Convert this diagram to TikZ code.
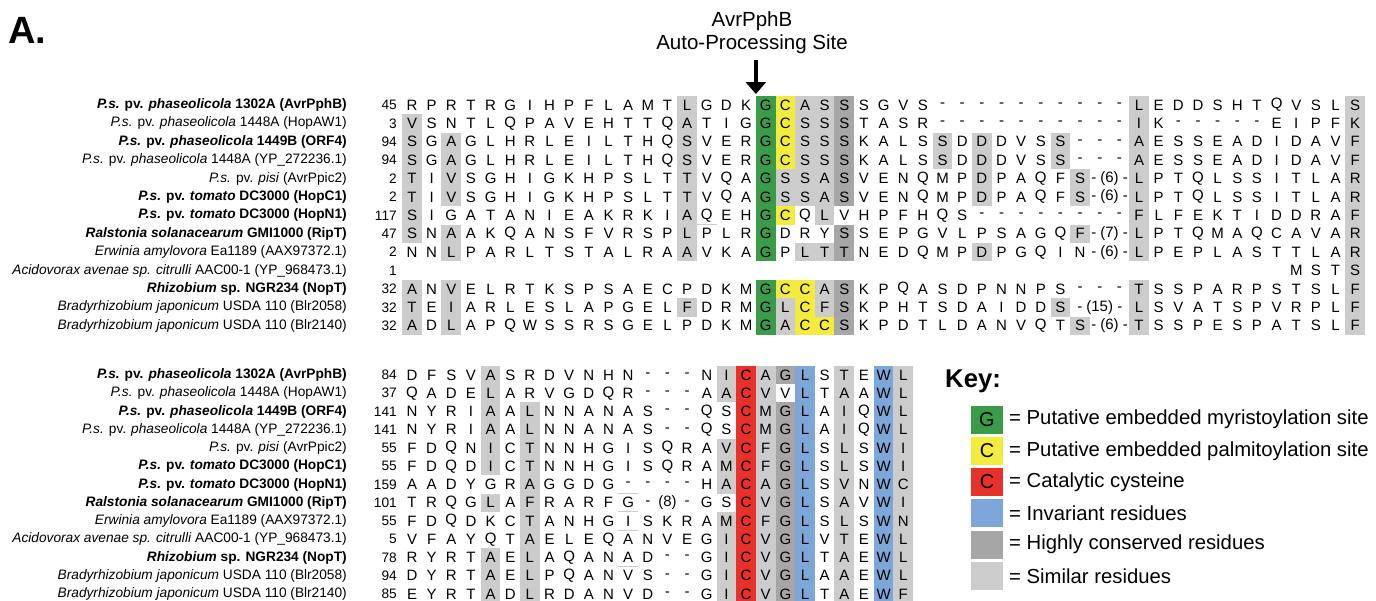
\documentclass[tikz,border=0pt]{standalone}
\usepackage{fontspec}
\setmainfont{Liberation Sans}
\usetikzlibrary{arrows.meta}
\definecolor{myrgreen}{HTML}{3A9B48}
\definecolor{palyellow}{HTML}{F3EB3D}
\definecolor{catred}{HTML}{E8312A}
\definecolor{invblue}{HTML}{7DA7D9}
\definecolor{consgray}{HTML}{A6A6A6}
\definecolor{simgray}{HTML}{CCCCCC}

% one row of residues, top block / bottom block
\newcommand{\toprow}[3]{%
  \foreach \t [count=\c from #2] in {#3}
    \node[res] (t-#1-\c) at ({412+19.65*\c},{105+18.4*(#1-1)}) {\t};}
\newcommand{\botrow}[2]{%
  \foreach \t [count=\c from 0] in {#2}
    \node[res] (b-#1-\c) at ({412+19.65*\c},{375+18.25*(#1-1)}) {\t};}

\begin{document}
\begin{tikzpicture}[x=1pt,y=-1pt]
  \tikzstyle{res}=[inner sep=0pt,font=\fontsize{15}{15}\selectfont]
  \tikzstyle{strain}=[anchor=east,inner sep=0pt,font=\fontsize{13.7}{16}\selectfont]
  \tikzstyle{keybox}=[minimum width=32pt,minimum height=28pt,inner sep=0pt,font=\fontsize{20}{20}\selectfont]
  \tikzstyle{keytext}=[anchor=west,inner sep=0pt,font=\fontsize{20.3}{22}\selectfont]
  \tikzstyle{edgeline}=[simgray,line width=1pt]
  \useasboundingbox (0,0) rectangle (1376,600);

  % shading, top block: column / first row / last row / colour
  \foreach \c/\a/\b/\k in {0/2/8/simgray,0/11/13/simgray,2/3/6/simgray,2/8/9/simgray,2/11/13/simgray,
      14/1/9/simgray,14/12/12/simgray,18/1/9/myrgreen,18/11/13/myrgreen,
      19/1/4/palyellow,19/5/6/simgray,19/7/7/palyellow,19/11/11/palyellow,19/12/13/simgray,
      20/1/6/simgray,20/9/9/simgray,20/11/13/palyellow,
      21/1/7/simgray,21/9/9/simgray,21/11/12/simgray,21/13/13/palyellow,
      22/1/6/consgray,22/8/9/consgray,22/11/13/consgray,
      27/3/4/simgray,29/3/6/simgray,29/9/9/simgray,33/3/4/simgray,33/12/12/simgray,
      34/5/6/simgray,34/8/8/simgray,34/13/13/simgray,
      37/1/9/simgray,37/11/13/simgray,48/1/13/simgray}
    \fill[\k] ({412+19.65*(\c-0.5)},{105+18.4*(\a-1.5)}) rectangle ({412+19.65*(\c+0.5)},{105+18.4*(\b-0.5)});
  \draw[edgeline] ({412+19.65*14.5},{105+18.4*6.5}) -- ++(19.65,0);

  % shading, bottom block
  \foreach \c/\a/\b/\k in {4/1/6/simgray,4/8/8/simgray,4/11/13/simgray,6/3/13/simgray,
      16/1/2/simgray,16/5/7/simgray,16/9/13/simgray,17/1/13/catred,
      18/1/13/simgray,19/1/1/consgray,19/3/13/consgray,20/1/13/invblue,22/1/13/simgray,
      24/1/13/invblue,25/1/13/simgray}
    \fill[\k] ({412+19.65*(\c-0.5)},{375+18.25*(\a-1.5)}) rectangle ({412+19.65*(\c+0.5)},{375+18.25*(\b-0.5)});
  \foreach \r in {7.5,8.5,9.5,11.5}
    \draw[edgeline] ({412+19.65*10.5},{375+18.25*(\r-1)}) -- ++(19.65,0);

  \node[anchor=west,inner sep=0pt,font=\fontsize{38}{38}\selectfont\bfseries] (panel) at (8,30) {A.};

  % strain names and start positions
  \foreach \r/\lab/\ta/\tb in {
      1/{\textbf{\textit{P.s.} pv. \textit{phaseolicola} 1302A (AvrPphB)}}/45/84,
      2/{\textit{P.s.} pv. \textit{phaseolicola} 1448A (HopAW1)}/3/37,
      3/{\textbf{\textit{P.s.} pv. \textit{phaseolicola} 1449B (ORF4)}}/94/141,
      4/{\textit{P.s.} pv. \textit{phaseolicola} 1448A (YP\_272236.1)}/94/141,
      5/{\textit{P.s.} pv. \textit{pisi} (AvrPpic2)}/2/55,
      6/{\textbf{\textit{P.s.} pv. \textit{tomato} DC3000 (HopC1)}}/2/55,
      7/{\textbf{\textit{P.s.} pv. \textit{tomato} DC3000 (HopN1)}}/117/159,
      8/{\textbf{\textit{Ralstonia solanacearum} GMI1000 (RipT)}}/47/101,
      9/{\textit{Erwinia amylovora} Ea1189 (AAX97372.1)}/2/55,
      10/{\textit{Acidovorax avenae sp. citrulli} AAC00-1 (YP\_968473.1)}/1/5,
      11/{\textbf{\textit{Rhizobium} sp. NGR234 (NopT)}}/32/78,
      12/{\textit{Bradyrhizobium japonicum} USDA 110 (Blr2058)}/32/94,
      13/{\textit{Bradyrhizobium japonicum} USDA 110 (Blr2140)}/32/85} {
    \node[strain] (tl-\r) at (347,{105+18.4*(\r-1)}) {\lab};
    \node[strain] (tn-\r) at (397,{105+18.4*(\r-1)}) {\ta};
    \node[strain] (bl-\r) at (347,{375+18.25*(\r-1)}) {\lab};
    \node[strain] (bn-\r) at (397,{375+18.25*(\r-1)}) {\tb};
  }

  % top block
  \toprow{1}{0}{R,P,R,T,R,G,I,H,P,F,L,A,M,T,L,G,D,K,G,C,A,S,S,S,G,V,S,-,-,-,-,-,-,-,-,-,-,L,E,D,D,S,H,T,Q,V,S,L,S}
  \toprow{2}{0}{V,S,N,T,L,Q,P,A,V,E,H,T,T,Q,A,T,I,G,G,C,S,S,S,T,A,S,R,-,-,-,-,-,-,-,-,-,-,I,K,-,-,-,-,-,E,I,P,F,K}
  \toprow{3}{0}{S,G,A,G,L,H,R,L,E,I,L,T,H,Q,S,V,E,R,G,C,S,S,S,K,A,L,S,S,D,D,D,V,S,S,-,-,-,A,E,S,S,E,A,D,I,D,A,V,F}
  \toprow{4}{0}{S,G,A,G,L,H,R,L,E,I,L,T,H,Q,S,V,E,R,G,C,S,S,S,K,A,L,S,S,D,D,D,V,S,S,-,-,-,A,E,S,S,E,A,D,I,D,A,V,F}
  \toprow{5}{0}{T,I,V,S,G,H,I,G,K,H,P,S,L,T,T,V,Q,A,G,S,S,A,S,V,E,N,Q,M,P,D,P,A,Q,F,S}
  \toprow{5}{37}{L,P,T,Q,L,S,S,I,T,L,A,R}
  \toprow{6}{0}{T,I,V,S,G,H,I,G,K,H,P,S,L,T,T,V,Q,A,G,S,S,A,S,V,E,N,Q,M,P,D,P,A,Q,F,S}
  \toprow{6}{37}{L,P,T,Q,L,S,S,I,T,L,A,R}
  \toprow{7}{0}{S,I,G,A,T,A,N,I,E,A,K,R,K,I,A,Q,E,H,G,C,Q,L,V,H,P,F,H,Q,S,-,-,-,-,-,-,-,-,F,L,F,E,K,T,I,D,D,R,A,F}
  \toprow{8}{0}{S,N,A,A,K,Q,A,N,S,F,V,R,S,P,L,P,L,R,G,D,R,Y,S,S,E,P,G,V,L,P,S,A,G,Q,F}
  \toprow{8}{37}{L,P,T,Q,M,A,Q,C,A,V,A,R}
  \toprow{9}{0}{N,N,L,P,A,R,L,T,S,T,A,L,R,A,A,V,K,A,G,P,L,T,T,N,E,D,Q,M,P,D,P,G,Q,I,N}
  \toprow{9}{37}{L,P,E,P,L,A,S,T,T,L,A,R}
  \toprow{10}{45}{M,S,T,S}
  \toprow{11}{0}{A,N,V,E,L,R,T,K,S,P,S,A,E,C,P,D,K,M,G,C,C,A,S,K,P,Q,A,S,D,P,N,N,P,S,-,-,-,T,S,S,P,A,R,P,S,T,S,L,F}
  \toprow{12}{0}{T,E,I,A,R,L,E,S,L,A,P,G,E,L,F,D,R,M,G,L,C,F,S,K,P,H,T,S,D,A,I,D,D,S}
  \toprow{12}{37}{L,S,V,A,T,S,P,V,R,P,L,F}
  \toprow{13}{0}{A,D,L,A,P,Q,W,S,S,R,S,G,E,L,P,D,K,M,G,A,C,C,S,K,P,D,T,L,D,A,N,V,Q,T,S}
  \toprow{13}{37}{T,S,S,P,E,S,P,A,T,S,L,F}
  % insertions
  \foreach \r/\g in {5/6,6/6,8/7,9/6,13/6}
    \node[res] (ins-\r) at ({412+19.65*35.5},{105+18.4*(\r-1)}) {- (\g) -};
  \node[res] (ins-12) at ({412+19.65*35},{105+18.4*11}) {- (15) -};

  % bottom block
  \botrow{1}{D,F,S,V,A,S,R,D,V,N,H,N,-,-,-,N,I,C,A,G,L,S,T,E,W,L}
  \botrow{2}{Q,A,D,E,L,A,R,V,G,D,Q,R,-,-,-,A,A,C,V,V,L,T,A,A,W,L}
  \botrow{3}{N,Y,R,I,A,A,L,N,N,A,N,A,S,-,-,Q,S,C,M,G,L,A,I,Q,W,L}
  \botrow{4}{N,Y,R,I,A,A,L,N,N,A,N,A,S,-,-,Q,S,C,M,G,L,A,I,Q,W,L}
  \botrow{5}{F,D,Q,N,I,C,T,N,N,H,G,I,S,Q,R,A,V,C,F,G,L,S,L,S,W,I}
  \botrow{6}{F,D,Q,D,I,C,T,N,N,H,G,I,S,Q,R,A,M,C,F,G,L,S,L,S,W,I}
  \botrow{7}{A,A,D,Y,G,R,A,G,G,D,G,-,-,-,-,H,A,C,A,G,L,S,V,N,W,C}
  \botrow{8}{T,R,Q,G,L,A,F,R,A,R,F,G,-,(8),-,G,S,C,V,G,L,S,A,V,W,I}
  \botrow{9}{F,D,Q,D,K,C,T,A,N,H,G,I,S,K,R,A,M,C,F,G,L,S,L,S,W,N}
  \botrow{10}{V,F,A,Y,Q,T,A,E,L,E,Q,A,N,V,E,G,I,C,V,G,L,V,T,E,W,L}
  \botrow{11}{R,Y,R,T,A,E,L,A,Q,A,N,A,D,-,-,G,I,C,V,G,L,T,A,E,W,L}
  \botrow{12}{D,Y,R,T,A,E,L,P,Q,A,N,V,S,-,-,G,I,C,V,G,L,A,A,E,W,L}
  \botrow{13}{E,Y,R,T,A,D,L,R,D,A,N,V,D,-,-,G,I,C,V,G,L,T,A,E,W,F}

  % processing site
  \coordinate (cut) at ({412+19.65*17.5},94);
  \node[align=center,inner sep=0pt,font=\fontsize{20.5}{23.3}\selectfont] (site) at (752,33) {AvrPphB\\Auto-Processing Site};
  \draw[line width=3.5pt,-{Triangle[length=12pt,width=20pt]}] ([yshift=-6pt]site.south -| cut) -- (cut);

  % key
  \node[anchor=west,inner sep=0pt,font=\fontsize{25.7}{26}\selectfont\bfseries] (keyttl) at (945,381) {Key:};
  \foreach \i/\k/\l/\txt in {1/myrgreen/G/Putative embedded myristoylation site,
      2/palyellow/C/Putative embedded palmitoylation site,
      3/catred/C/Catalytic cysteine,
      4/invblue//Invariant residues,
      5/consgray//Highly conserved residues,
      6/simgray//Similar residues} {
    \node[keybox,fill=\k] (key-\i) at (987,{419.5+31.3*(\i-1)}) {\l};
    \node[keytext] (keyt-\i) at (1009,{419.5+31.3*(\i-1)}) {= \txt};
  }
\end{tikzpicture}
\end{document}
